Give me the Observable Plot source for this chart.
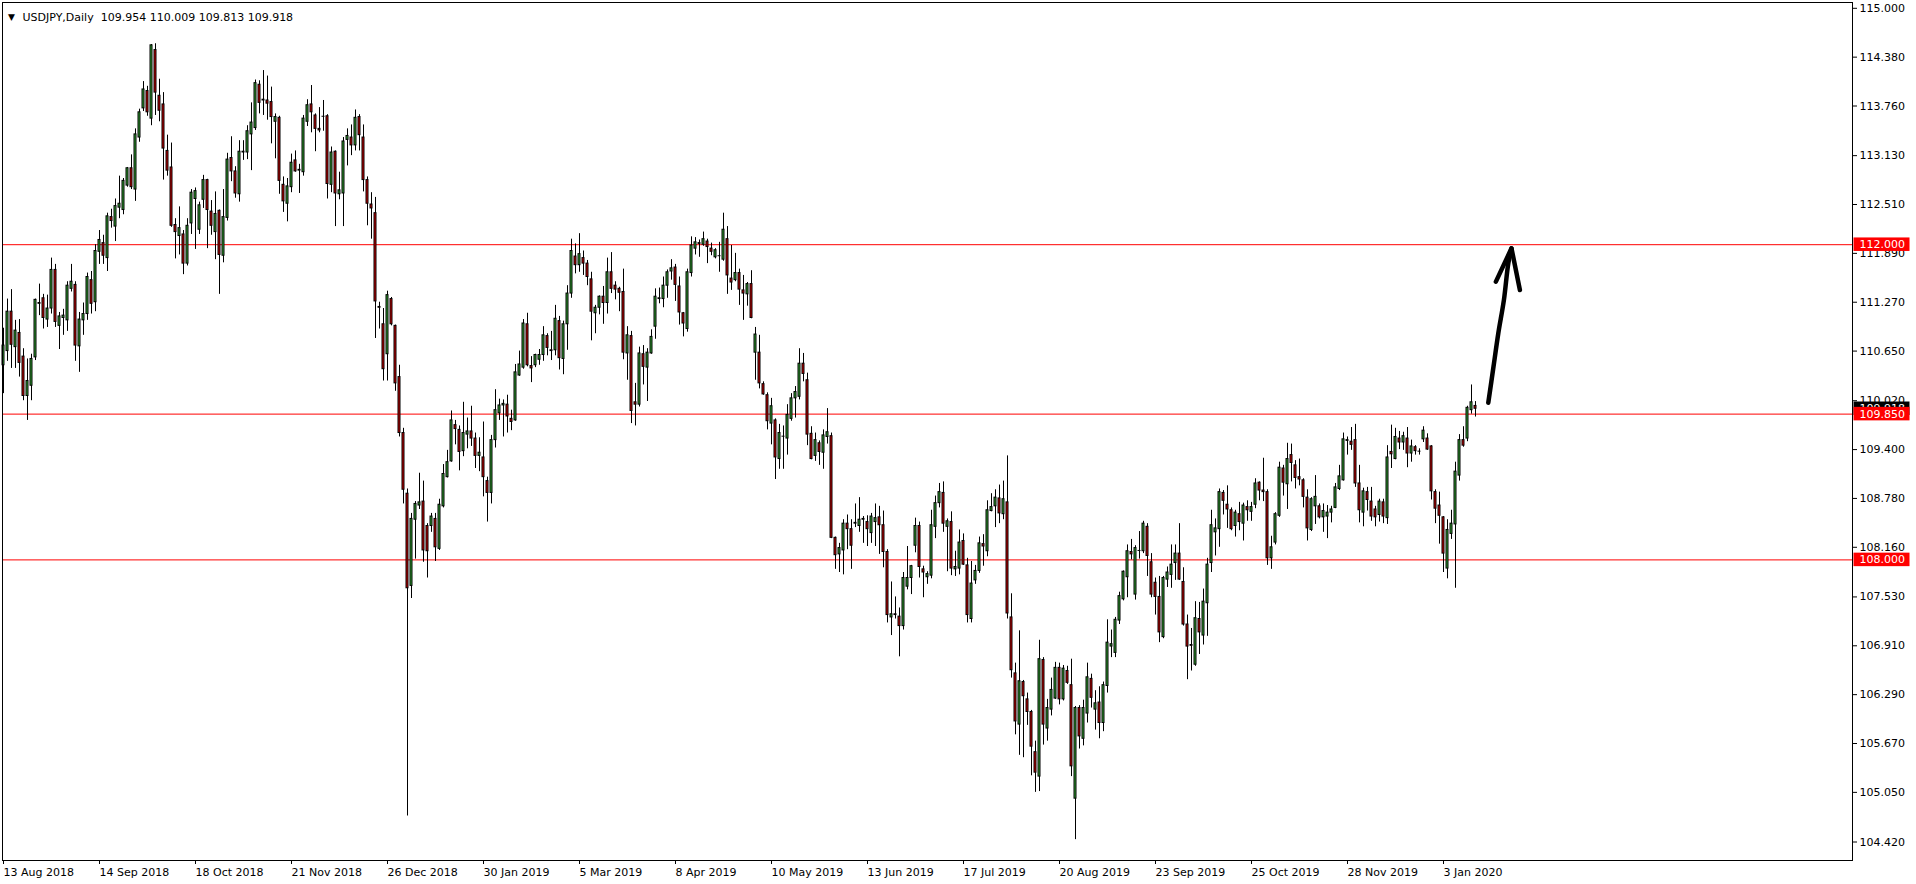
<!DOCTYPE html>
<html>
<head>
<meta charset="utf-8">
<script src="https://cdn.jsdelivr.net/npm/d3@7"></script>
<script src="https://cdn.jsdelivr.net/npm/@observablehq/plot@0.6"></script>
<style>
html, body { margin: 0; padding: 0; background: #ffffff; overflow: hidden; }
#chart svg { display: block; }
</style>
</head>
<body>
<div id="chart"></div>
<script>
// ---- Data (USDJPY Daily, one bar per trading day starting 13 Aug 2018) ----
const symbolName = "USDJPY,Daily";

const barOpen = [
110.47,110.65,111.15,110.70,110.88,110.58,110.08,110.21,110.57,111.25,
111.32,111.05,111.19,111.68,110.97,111.07,111.04,111.44,111.49,110.71,
111.04,111.12,111.55,111.27,111.91,112.02,111.83,112.35,112.23,112.47,
112.44,112.75,112.97,112.70,113.36,113.73,113.95,113.60,114.47,113.89,
113.78,113.19,112.98,112.25,112.11,112.13,111.76,112.27,112.58,112.19,
112.57,112.82,112.42,112.16,112.43,111.86,112.34,113.10,112.93,112.64,
113.17,113.17,113.40,113.48,114.03,113.84,113.83,113.81,113.56,113.61,
112.76,112.52,112.73,113.07,112.94,112.92,113.56,113.78,113.64,113.47,
113.63,113.63,112.76,113.18,112.64,112.65,113.33,113.36,113.26,113.62,
113.36,112.82,112.51,112.40,111.21,110.99,110.61,111.31,110.97,110.32,
109.61,108.84,107.67,108.51,108.69,108.74,108.43,108.43,108.52,108.14,
108.68,109.05,109.25,109.71,109.65,109.38,109.59,109.63,109.54,109.32,
109.30,109.00,108.85,109.52,109.86,109.96,109.97,109.79,109.77,110.34,
110.44,110.99,110.46,110.47,110.54,110.60,110.84,110.66,110.66,111.03,
110.55,110.99,111.38,111.85,111.74,111.83,111.76,111.56,111.13,111.20,
111.34,111.26,111.65,111.48,111.44,111.40,110.62,110.84,110.00,109.97,
110.61,110.44,110.62,110.96,111.31,111.31,111.48,111.66,111.71,111.47,
111.13,110.93,111.64,111.95,112.02,112.00,112.04,111.95,111.84,111.86,
111.81,112.07,111.57,111.55,111.64,111.42,111.37,111.50,110.63,110.63,
110.23,110.09,109.73,109.77,109.28,109.57,109.54,109.79,110.05,110.07,
110.49,110.28,109.60,109.32,109.48,109.36,109.56,109.57,108.28,108.07,
108.12,108.46,108.39,108.46,108.43,108.51,108.48,108.34,108.48,108.54,
108.44,108.10,107.27,107.31,107.28,107.16,107.66,107.77,108.18,108.43,
107.88,107.78,107.80,108.42,108.72,108.85,108.42,108.48,107.88,107.89,
108.24,107.93,107.25,107.74,107.86,108.20,108.11,108.62,108.68,108.78,
108.58,108.73,107.27,106.56,105.91,106.45,106.23,106.07,105.56,105.25,
106.73,105.86,106.10,106.24,106.63,106.23,106.59,106.41,104.97,106.12,
105.73,106.05,106.49,106.10,106.19,105.93,106.40,106.90,106.82,107.23,
107.50,107.78,108.10,107.56,108.12,108.11,108.42,107.97,107.71,107.53,
107.02,107.75,107.81,107.96,108.08,107.72,107.18,106.92,106.67,107.25,
107.04,107.45,107.96,108.35,108.39,108.85,108.70,108.63,108.43,108.58,
108.46,108.67,108.61,108.70,108.98,108.88,108.86,108.02,108.22,108.56,
109.16,108.96,109.33,109.20,109.05,109.01,108.79,108.38,108.68,108.68,
108.54,108.55,108.60,108.66,108.90,109.01,109.51,109.50,109.52,108.97,
108.60,108.86,108.74,108.64,108.57,108.73,108.53,109.37,109.28,109.54,
109.49,109.54,109.35,109.43,109.38,109.53,109.54,109.44,108.86,108.69,
108.54,107.89,108.33,108.45,109.07,109.52,109.54,109.90,109.954
];

const barHigh = [
110.94,111.31,111.43,111.04,111.05,110.68,110.55,110.61,111.31,111.50,
111.37,111.36,111.83,111.75,111.14,111.18,111.53,111.75,111.53,111.14,
111.26,111.64,111.66,112.00,112.18,112.12,112.40,112.45,112.58,112.87,
112.84,112.98,113.14,113.47,113.72,114.07,114.01,114.54,114.55,114.10,
113.93,113.39,113.29,112.33,112.48,112.18,112.33,112.70,112.72,112.54,
112.88,112.83,112.56,112.67,112.44,112.70,113.16,113.37,112.99,113.32,
113.32,113.51,113.80,114.09,114.08,114.21,114.14,114.00,113.66,113.63,
112.86,112.84,113.15,113.19,113.02,113.64,113.84,114.02,113.66,113.74,
113.83,113.65,113.24,113.19,112.92,113.36,113.47,113.52,113.71,113.65,
113.52,112.86,112.66,112.60,111.27,111.19,111.41,111.33,110.98,110.47,
109.67,108.90,108.59,108.74,109.10,109.00,108.46,108.59,108.59,108.77,
109.21,109.39,109.89,109.77,109.70,110.00,109.80,109.95,109.61,109.55,
109.75,109.05,109.58,110.16,110.04,110.03,110.09,109.90,110.48,110.65,
111.05,111.13,110.58,110.61,110.67,110.96,110.87,110.90,111.23,111.09,
111.03,111.48,112.07,112.01,112.14,111.92,111.80,111.65,111.23,111.35,
111.47,111.83,111.90,111.53,111.46,111.69,110.96,110.90,110.24,110.70,
110.72,110.68,110.92,111.44,111.45,111.59,111.68,111.81,111.75,111.59,
111.14,111.69,112.10,112.09,112.06,112.16,112.07,112.02,111.95,112.03,
112.40,112.23,111.99,111.89,111.69,111.61,111.52,111.67,110.95,110.85,
110.26,110.12,110.05,109.79,109.72,109.70,109.97,110.11,110.20,110.68,
110.62,110.37,109.69,109.61,109.51,109.65,109.92,109.61,108.29,108.21,
108.51,108.57,108.51,108.71,108.79,108.55,108.56,108.59,108.71,108.68,
108.62,108.13,107.72,107.53,107.39,107.84,108.17,107.93,108.53,108.48,
107.92,107.85,108.63,108.81,108.97,108.99,108.52,108.61,108.11,108.38,
108.33,108.02,107.98,107.93,108.29,108.32,108.75,108.84,108.89,108.95,
109.00,109.32,107.57,106.69,107.10,106.47,106.31,106.09,105.70,106.98,
106.76,106.23,106.50,106.70,106.69,106.66,106.65,106.74,106.14,106.15,
106.22,106.69,106.55,106.34,106.39,106.45,107.24,107.11,107.27,107.59,
107.86,108.19,108.26,108.18,108.36,108.49,108.46,108.08,107.77,107.79,
107.79,107.91,108.19,108.19,108.46,107.90,107.30,107.13,107.47,107.46,
107.63,108.02,108.63,108.52,108.90,108.88,108.94,108.66,108.63,108.73,
108.72,108.75,108.73,109.03,108.99,109.29,108.89,108.30,108.60,109.24,
109.20,109.48,109.47,109.26,109.28,109.03,108.89,108.79,109.07,108.71,
108.71,108.69,108.68,108.97,109.20,109.61,109.56,109.68,109.72,109.20,
108.91,108.92,108.92,108.68,108.77,108.77,109.45,109.71,109.67,109.63,
109.62,109.68,109.52,109.45,109.41,109.69,109.60,109.45,108.89,108.86,
108.55,108.51,108.63,109.24,109.59,109.69,109.95,110.22,110.009
];

const barLow = [
110.11,110.52,110.43,110.43,110.32,110.02,109.77,110.02,110.53,111.10,
110.93,110.95,111.12,110.95,110.67,110.85,110.90,111.40,110.52,110.38,
110.85,111.04,111.12,111.15,111.75,111.75,111.66,112.21,112.04,112.33,
112.38,112.73,112.70,112.55,113.30,113.69,113.63,113.51,113.64,113.56,
112.82,112.87,112.22,111.82,111.87,111.62,111.73,112.13,111.94,112.13,
112.46,111.95,112.12,111.81,111.37,111.77,112.30,112.80,112.59,112.54,
113.07,113.08,112.94,113.45,113.66,113.64,113.58,113.28,113.09,112.64,
112.41,112.29,112.66,112.92,112.65,112.87,113.50,113.42,113.18,113.42,
113.44,112.58,112.66,112.23,112.57,112.23,113.00,113.13,113.19,113.19,
112.67,112.24,112.07,110.81,110.93,110.27,110.27,110.97,110.14,109.56,
108.71,104.75,107.51,108.01,108.64,107.97,107.77,108.35,107.98,108.12,
108.66,109.04,109.24,109.46,109.13,109.31,109.41,109.44,109.16,109.12,
108.80,108.48,108.71,109.42,109.77,109.56,109.61,109.64,109.76,110.33,
110.42,110.45,110.25,110.44,110.47,110.52,110.59,110.53,110.59,110.41,
110.35,110.66,111.32,111.63,111.65,111.61,111.48,110.78,110.87,111.11,
110.99,111.12,111.38,111.30,111.15,110.54,110.28,109.73,109.70,109.94,
110.22,110.01,110.61,110.80,111.25,111.20,111.32,111.55,111.28,110.98,
110.83,110.89,111.59,111.87,111.84,111.98,111.76,111.86,111.82,111.65,
111.79,111.37,111.42,111.53,111.23,111.04,111.22,111.06,110.28,110.17,
110.09,109.65,109.46,109.02,109.15,109.15,109.33,109.76,109.80,110.03,
110.26,109.45,109.27,109.25,109.20,109.15,109.47,108.27,107.88,107.84,
107.81,108.13,107.88,108.41,108.35,108.21,108.17,108.21,108.17,108.07,
107.90,107.20,107.04,107.25,106.77,107.11,107.62,107.56,108.09,107.77,
107.52,107.69,107.76,108.27,108.66,108.35,107.85,107.80,107.79,107.81,
107.93,107.20,107.20,107.69,107.83,107.92,108.04,108.61,108.41,108.46,
108.51,107.25,106.50,105.78,105.52,105.49,105.90,105.26,105.05,105.06,
105.65,105.70,106.02,106.23,106.16,106.21,106.42,105.25,104.45,105.60,
105.64,105.93,106.12,105.84,105.73,105.82,106.31,106.76,106.76,107.18,
107.48,107.52,108.00,107.49,108.01,108.08,107.79,107.52,107.30,106.95,
107.00,107.65,107.64,107.74,107.74,107.16,106.48,106.59,106.65,106.80,
106.92,107.03,107.84,108.05,108.16,108.57,108.40,108.37,108.29,108.37,
108.24,108.49,108.49,108.65,108.75,108.74,107.93,107.88,108.19,108.54,
108.81,108.64,108.99,108.90,108.94,108.66,108.24,108.36,108.45,108.52,
108.35,108.27,108.47,108.65,108.88,109.00,109.33,109.39,108.92,108.47,
108.42,108.62,108.49,108.42,108.48,108.46,108.45,109.16,109.27,109.40,
109.39,109.17,109.24,109.33,109.33,109.49,109.39,108.76,108.46,108.20,
107.84,107.76,108.26,107.64,109.00,109.43,109.50,109.85,109.813
];

const barClose = [
110.72,111.15,110.73,110.91,110.50,110.08,110.27,110.55,111.30,111.26,
111.07,111.19,111.68,111.02,111.09,111.10,111.48,111.53,110.72,111.05,
111.12,111.59,111.25,111.92,112.06,111.86,112.36,112.30,112.49,112.52,
112.81,112.97,112.73,113.40,113.68,113.97,113.68,114.53,113.93,113.70,
113.22,112.94,112.24,112.16,112.21,111.76,112.24,112.66,112.68,112.50,
112.82,112.44,112.24,112.39,111.87,112.35,113.08,112.93,112.65,113.18,
113.18,113.44,113.55,114.05,113.80,113.83,113.79,113.62,113.62,112.81,
112.55,112.74,113.04,112.93,112.95,113.60,113.77,113.68,113.47,113.45,
113.63,112.77,113.17,112.65,112.69,113.31,113.38,113.26,113.61,113.39,
112.82,112.52,112.46,111.28,111.20,110.42,111.36,110.99,110.24,109.61,
108.89,107.64,108.52,108.71,108.73,108.12,108.11,108.55,108.16,108.70,
109.09,109.24,109.77,109.66,109.37,109.61,109.63,109.54,109.32,109.36,
109.05,108.85,109.52,109.90,109.96,109.98,109.82,109.75,110.38,110.48,
111.00,110.47,110.43,110.60,110.60,110.85,110.69,110.65,111.06,110.56,
110.99,111.38,111.92,111.74,111.88,111.76,111.59,111.15,111.20,111.34,
111.26,111.65,111.44,111.43,111.39,110.63,110.85,109.89,109.97,110.62,
110.45,110.63,110.83,111.34,111.32,111.48,111.65,111.70,111.49,111.14,
111.00,111.65,111.99,112.03,112.01,112.07,111.97,111.91,111.93,111.86,
112.19,111.61,111.52,111.64,111.43,111.38,111.50,111.07,110.86,110.24,
110.10,109.76,109.95,109.30,109.61,109.57,109.84,110.05,110.13,110.49,
110.36,109.59,109.28,109.52,109.37,109.58,109.62,108.28,108.06,108.15,
108.46,108.39,108.18,108.47,108.51,108.52,108.39,108.55,108.53,108.44,
108.10,107.30,107.31,107.30,107.16,107.77,107.77,107.92,108.43,107.91,
107.84,107.82,108.44,108.72,108.86,108.46,108.49,107.89,107.91,108.22,
107.94,107.30,107.70,107.86,108.21,108.17,108.63,108.67,108.79,108.59,
108.77,107.32,106.60,105.95,106.46,106.27,106.07,105.63,105.30,106.74,
105.91,106.12,106.35,106.63,106.23,106.62,106.44,105.38,106.12,105.76,
106.12,106.51,106.25,106.18,105.93,106.41,106.95,106.93,107.24,107.54,
107.85,108.11,108.07,108.15,108.12,108.46,108.05,107.56,107.53,107.08,
107.77,107.84,107.94,108.08,107.75,107.18,106.90,106.91,107.26,107.08,
107.47,107.94,108.44,108.40,108.86,108.75,108.64,108.39,108.60,108.48,
108.69,108.63,108.67,108.97,108.88,108.86,108.02,108.16,108.58,109.17,
108.98,109.28,109.23,109.04,109.02,108.80,108.40,108.77,108.80,108.54,
108.62,108.60,108.64,108.92,109.06,109.53,109.52,109.46,108.97,108.63,
108.87,108.76,108.55,108.54,108.74,108.55,109.30,109.34,109.56,109.49,
109.57,109.35,109.44,109.38,109.38,109.64,109.40,108.87,108.65,108.56,
108.08,108.38,108.46,109.12,109.52,109.45,109.93,110.00,109.918
];

// Time axis: bar index of each date label, and the label text
const xTickBars = [0, 24, 48, 72, 96, 120, 144, 168, 192, 216, 240, 264, 288, 312, 336, 360];
const xTickLabels = ["13 Aug 2018", "14 Sep 2018", "18 Oct 2018", "21 Nov 2018", "26 Dec 2018",
  "30 Jan 2019", "5 Mar 2019", "8 Apr 2019", "10 May 2019", "13 Jun 2019", "17 Jul 2019",
  "20 Aug 2019", "23 Sep 2019", "25 Oct 2019", "28 Nov 2019", "3 Jan 2020"];

// Price axis ticks
const yTicks = [115.000, 114.380, 113.760, 113.130, 112.510, 111.890, 111.270, 110.650, 110.020,
  109.400, 108.780, 108.160, 107.530, 106.910, 106.290, 105.670, 105.050, 104.420];

// Horizontal support / resistance levels
const levels = [112.000, 109.850, 108.000];

// Hand-drawn arrow (bar index, price)
const arrowShaftBar = [371.2, 372.5, 373.7, 375.1, 376.2, 377.0];
const arrowShaftPrice = [109.995, 110.452, 110.875, 111.298, 111.764, 111.954];
const arrowHeadBar = [373.1, 377.0, 379.1];
const arrowHeadPrice = [111.531, 111.954, 111.425];

// ---- Build ----
const UP = "#32a832";
const DOWN = "#d10000";
const bars = barOpen.map((o, i) => ({i, open: o, high: barHigh[i], low: barLow[i], close: barClose[i]}));
const dojis = bars.filter(d => d.open === d.close);
const last = bars[bars.length - 1];
const fmt3 = d3.format(".3f");
const shaft = arrowShaftBar.map((b, k) => ({b, p: arrowShaftPrice[k]}));
const head = arrowHeadBar.map((b, k) => ({b, p: arrowHeadPrice[k]}));
const boxHalf = 0.0857;     // half height of the price tag (price units)
const tagX1 = 462.625, tagX2 = 476.625, tagTextX = 464;
const headerText = symbolName + "\u00a0\u00a0" + [last.open, last.high, last.low, last.close].map(fmt3).join(" ");

const chart = Plot.plot({
  width: 1916,
  height: 884,
  marginLeft: 2,
  marginTop: 2,
  marginRight: 64,
  marginBottom: 24,
  style: {fontFamily: "DejaVu Sans", fontSize: "11px", background: "#ffffff", color: "#000000", overflow: "visible"},
  x: {type: "linear", domain: [-0.25, 462.25]},
  y: {type: "linear", domain: [104.1853, 115.0736]},
  color: {type: "identity"},
  marks: [
    Plot.ruleY(levels, {y: d => d, stroke: "#ff0000", strokeWidth: 1}),
    Plot.ruleX(bars, {x: "i", y1: "low", y2: "high", stroke: "#000000", strokeWidth: 1}),
    Plot.rect(bars, {
      x1: d => d.i - 0.25, x2: d => d.i + 0.25, y1: "open", y2: "close",
      fill: d => d.close > d.open ? UP : DOWN, stroke: "#000000", strokeWidth: 1
    }),
    Plot.ruleY(dojis, {y: "open", x1: d => d.i - 0.375, x2: d => d.i + 0.375, stroke: "#000000", strokeWidth: 1}),
    Plot.frame({stroke: "#000000", strokeWidth: 1}),
    Plot.axisX(xTickBars, {
      anchor: "bottom", tickSize: 4, tickPadding: 4, textAnchor: "start", label: null,
      tickFormat: d => xTickLabels[xTickBars.indexOf(d)], fontSize: 11, stroke: "#000000", fill: "#000000"
    }),
    Plot.axisY(yTicks, {
      anchor: "right", tickSize: 4, tickPadding: 3, label: null,
      tickFormat: fmt3, fontSize: 11, stroke: "#000000", fill: "#000000"
    }),
    // header
    Plot.text(["\u25BC"], {frameAnchor: "top-left", dx: 9, dy: 11, text: d => d, fontSize: 9, textAnchor: "middle", fill: "#000000"}),
    Plot.text([headerText], {frameAnchor: "top-left", dx: 20, dy: 11, text: d => d, fontSize: 11, textAnchor: "start", fill: "#000000"}),
    // current price tag
    Plot.rect([last.close], {x1: tagX1, x2: tagX2, y1: d => d - boxHalf, y2: d => d + boxHalf, fill: "#000000"}),
    Plot.text([last.close], {x: tagTextX, y: d => d, text: fmt3, fill: "#ffffff", textAnchor: "start", fontSize: 11}),
    // level tags
    Plot.rect(levels, {x1: tagX1, x2: tagX2, y1: d => d - boxHalf, y2: d => d + boxHalf, fill: "#ff0000"}),
    Plot.text(levels, {x: tagTextX, y: d => d, text: fmt3, fill: "#ffffff", textAnchor: "start", fontSize: 11}),
    // arrow
    Plot.line(shaft, {x: "b", y: "p", stroke: "#000000", strokeWidth: 4.5, strokeLinecap: "round", strokeLinejoin: "round", curve: "catmull-rom"}),
    Plot.line(head, {x: "b", y: "p", stroke: "#000000", strokeWidth: 4.5, strokeLinecap: "round", strokeLinejoin: "round"})
  ]
});
document.getElementById("chart").appendChild(chart);
</script>
</body>
</html>
